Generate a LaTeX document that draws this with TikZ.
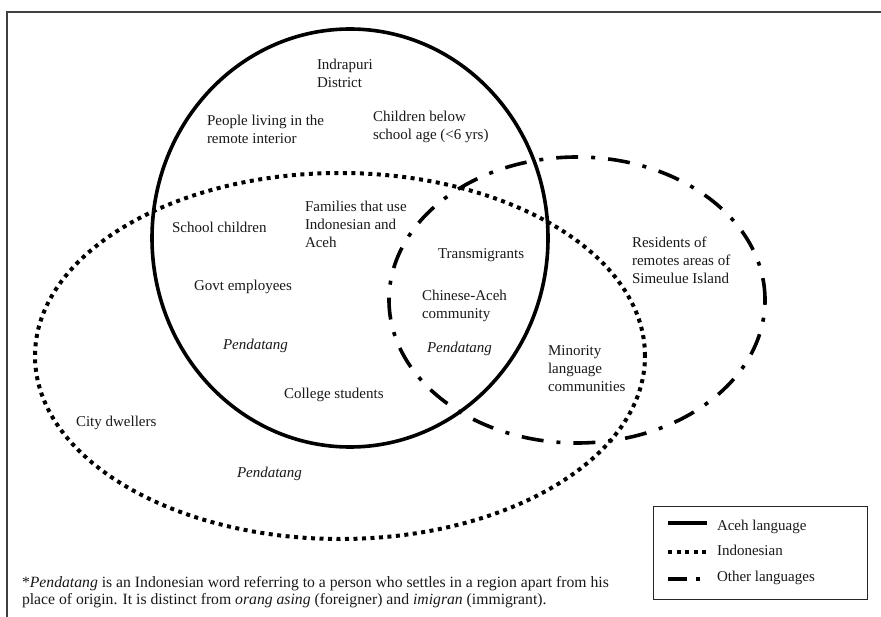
\documentclass[tikz,border=0pt]{standalone}
\usepackage{fontspec}
\setmainfont{Liberation Serif}
\begin{document}
\begin{tikzpicture}[x=1pt,y=-1pt,
  lbl/.style={inner sep=0pt, outer sep=0pt, align=left, font=\fontsize{15}{18}\selectfont, text=black!90},
  aceh/.style={line width=3.6pt, black},
  indo/.style={line width=4pt, black, dash pattern=on 4pt off 4.5pt},
  other/.style={line width=3.6pt, black, dash pattern=on 22pt off 13pt on 4pt off 13pt},
  frame/.style={line width=1.3pt, black!75}]
\useasboundingbox (0,0) rectangle (881,617);
\fill[white] (0,0) rectangle (881,617);
% outer frame (right and bottom sides lie outside the picture)
\draw[frame] (7,640) -- (7,12) -- (900,12);

% sets
\coordinate (cA) at (350,238);
\coordinate (cI) at (340,356);
\coordinate (cO) at (577,300);
\draw[indo] (cI) ellipse [x radius=305pt, y radius=183pt];
\draw[other] (cO) ellipse [x radius=188pt, y radius=143pt];
\draw[aceh] (cA) ellipse [x radius=198pt, y radius=209pt];

% labels
\node[lbl, anchor=north west] (indrapuri) at (317,59.5) {Indrapuri\\District};
\node[lbl, anchor=north west] (remote) at (207,115.5) {People living in the\\remote interior};
\node[lbl, anchor=north west] (children) at (373,111.5) {Children below\\school age (<6 yrs)};
\node[lbl, anchor=base west] (school) at (172,233) {School children};
\node[lbl, anchor=north west] (families) at (305,201.5) {Families that use\\Indonesian and\\Aceh};
\node[lbl, anchor=base west] (trans) at (438,259) {Transmigrants};
\node[lbl, anchor=base west] (govt) at (194,291) {Govt employees};
\node[lbl, anchor=north west] (chinese) at (422,290.5) {Chinese-Aceh\\community};
\node[lbl, anchor=base west] (pend1) at (223,350) {\itshape Pendatang};
\node[lbl, anchor=base west] (pend2) at (427,353) {\itshape Pendatang};
\node[lbl, anchor=base west] (college) at (284,399) {College students};
\node[lbl, anchor=north west] (minority) at (548,345.5) {Minority\\language\\communities};
\node[lbl, anchor=north west] (simeulue) at (632,236.5) {Residents of\\remotes areas of\\Simeulue Island};
\node[lbl, anchor=base west] (city) at (76,427) {City dwellers};
\node[lbl, anchor=base west] (pend3) at (237,477) {\itshape Pendatang};

% legend
\node[draw=black!85, line width=1.4pt, inner sep=0pt, minimum width=214pt, minimum height=93pt, anchor=north west] (legend) at (653,506) {};
\coordinate (l1a) at (668,523); \coordinate (l1b) at (707,523);
\coordinate (l2a) at (668,552); \coordinate (l2b) at (708,552);
\coordinate (l3a) at (668,579); \coordinate (l3b) at (704,579);
\draw[aceh, line width=4pt] (l1a) -- (l1b);
\draw[indo] (l2a) -- (l2b);
\draw[line width=4pt, dash pattern=on 19pt off 9pt on 4pt off 9pt] (l3a) -- (l3b);
\node[lbl, anchor=base west] (legA) at (717,530) {Aceh language};
\node[lbl, anchor=base west] (legI) at (717,555) {Indonesian};
\node[lbl, anchor=base west] (legO) at (717,581) {Other languages};

% footnote
\node[lbl, anchor=north west, font=\fontsize{15.7}{17}\selectfont] (note) at (22,576.5)
  {*\textit{Pendatang} is an Indonesian word referring to a person who settles in a region apart from his\\
   place of origin. It is distinct from \textit{orang asing} (foreigner) and \textit{imigran} (immigrant).};
\end{tikzpicture}
\end{document}
